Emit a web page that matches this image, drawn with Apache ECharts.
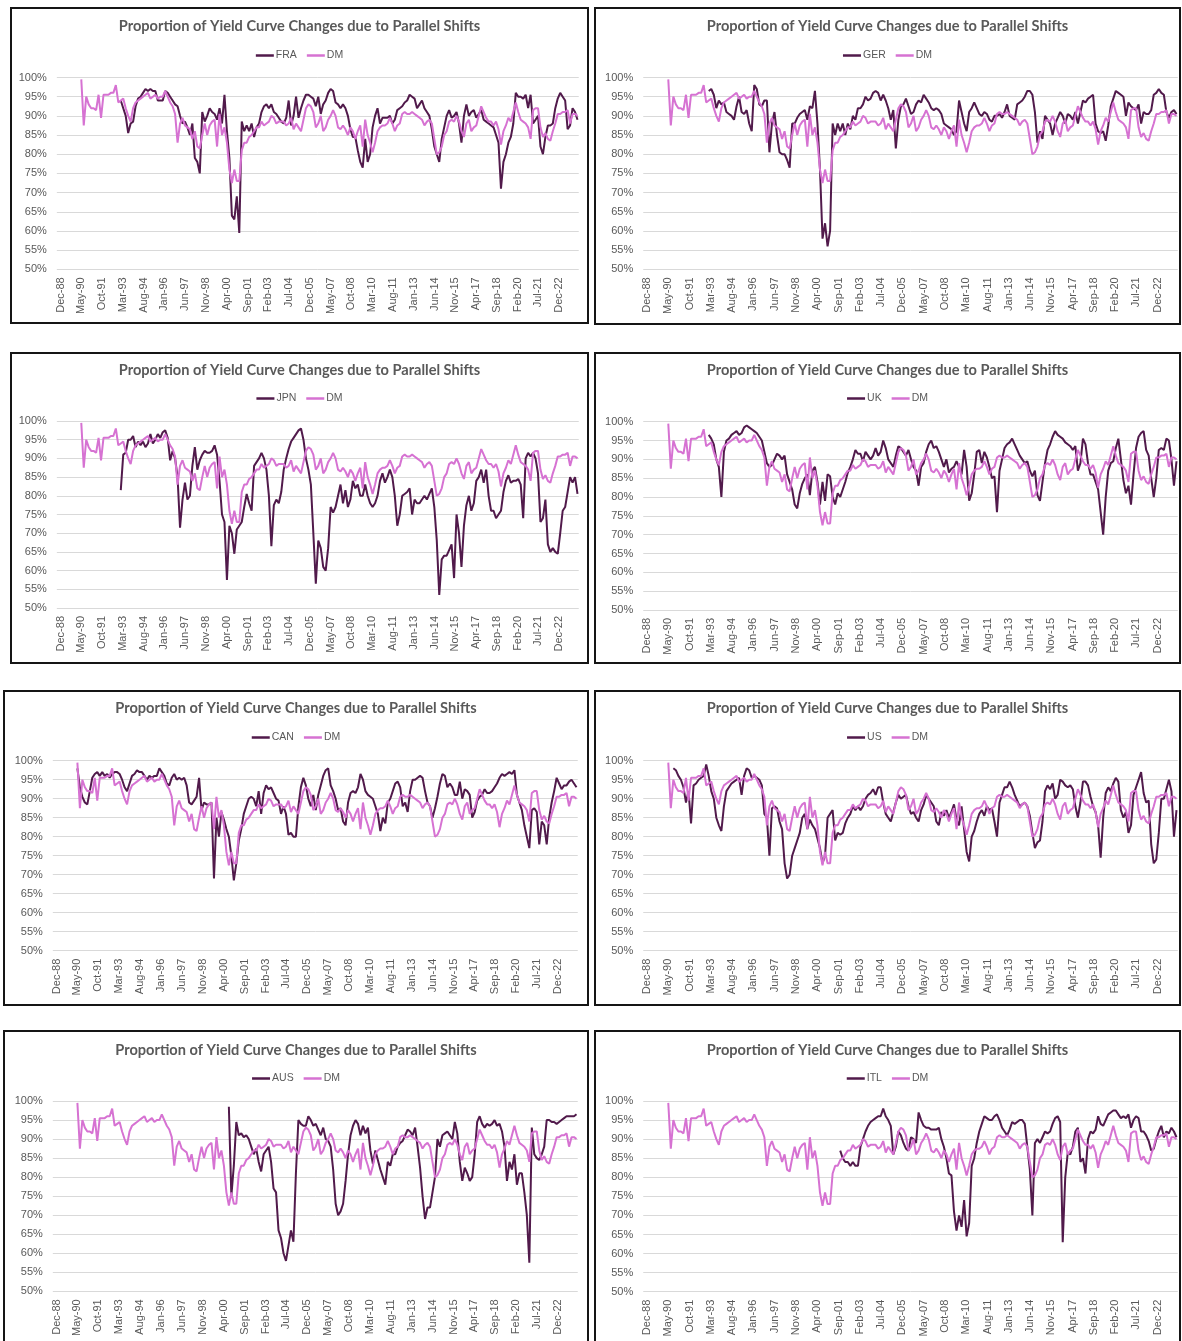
<!DOCTYPE html>
<html><head><meta charset="utf-8">
<script src="https://cdn.jsdelivr.net/npm/echarts@6/dist/echarts.min.js"></script>
<style>
html,body{margin:0;padding:0;background:#fff;width:1182px;height:1341px;overflow:hidden;}
.panel{position:absolute;box-sizing:border-box;border:2px solid #151515;background:#fff;}
</style></head><body>
<div id="p1" class="panel"></div><div id="p2" class="panel"></div>
<div id="p3" class="panel"></div><div id="p4" class="panel"></div>
<div id="p5" class="panel"></div><div id="p6" class="panel"></div>
<div id="p7" class="panel"></div><div id="p8" class="panel"></div>
<script>
// ---------- tick labels (x axis: months after Dec-88, one label every 17 months) ----------
const TICK_LABELS = ['Dec-88','May-90','Oct-91','Mar-93','Aug-94','Jan-96','Jun-97','Nov-98','Apr-00','Sep-01',
  'Feb-03','Jul-04','Dec-05','May-07','Oct-08','Mar-10','Aug-11','Jan-13','Jun-14','Nov-15','Apr-17','Sep-18',
  'Feb-20','Jul-21','Dec-22'];
const TICK_STEP = 17;
const FIRST_MONTH = 17;   // May-90 (months after Dec-88)
const LAST_MONTH = 423;   // Mar-24
const TITLE = 'Proportion of Yield Curve Changes due to Parallel Shifts';

// ---------- series values (%, evenly spaced readings May-90 .. Mar-24) ----------
const DM = [99.5,87.5,95,93,
 92,92,91.5,95.5,89.5,95.5, 95.5,95.5,96,96,98,93.5, 94,94.5,92,90,88.5,92, 93.5,94,94.5,95,95.5,96,
 94.5,95,95.5,94.5,95,95, 96.5,95,93.5,92.5,90.5,83, 88,89.5,87.5,87,86.5,84, 86,82,81.5,85,88,85,
 87.5,88.5,89,82,90.5,85, 87,83,76,72.5,76,73, 73,81,83,83,84.5,85, 86,87,87,88.5,87.5,88,
 88.5,90,89.5,88,88.5,88.5, 88.5,87.5,88,89.5,86.5,88, 87,86,89,92,93,92.5, 91,87,88,90,86,87,
 89,90,91.5,90,87,86.5, 87.5,86.5,85,87,86,84, 86,87.5,82,89,85,83, 80.5,83,86,87,87.5,87.5,
 88,89.5,88,86,87.5,88, 90.5,91,90.5,90.5,91,90.5, 90,89.5,89,87.5,88.5,89, 88,84,80,80.5,82,85,
 86,88.5,89,88.5,90,88.5, 86,84.5,88,89,86,87, 87.5,90,92.5,91,89.5,88.5, 88.5,87.5,88.5,86.5,82.5,86,
 87.5,89.5,88.5,91,93.5,91, 89,88.5,88,87,84,91.5, 92,92,87,84.5,85.5,84, 83.5,86,88,90.5,90.5,91,
 91,91.5,88,90.5,90.5,90];

const FRA = [94,92,90,85.5,88,88.5, 92.5,94.5,95,96,97,96.5, 97,96.5,96.5,94,94,94, 96.5,96,95,94,93,92.5,
 90,88,88.5,87,85,88, 79,78,75,91,88.5,90, 92,91,90.5,89,92,88, 95.5,86,79,64,63,69, 59.5,88.5,86,87.5,86,88,
 84.5,87,88,91,92.5,93, 92,93,91,90.5,89.5,88.5, 88,89.5,94,87.5,90,95, 89.5,92,94,95.5,95.5,95,
 94.5,92.5,95,90.5,93,94, 96,97,96.5,93.5,93,92, 93,92,90,86.5,84.5,84.5, 81,78,76.5,84,78,80,
 87,90,92,88,89.5,89.5, 89.5,90,88,89,91.5,92, 92.5,93.5,94,95.5,95,94.5, 92,93,94,92,91,90,
 86.5,82,80,78,84,87, 90,91.5,89.5,90,91,88, 83,90,93,90,91,91.5, 89.5,90.5,91.5,89,88.5,88,
 87.5,87,85,83,71,78, 80,83,84.5,88,96,95, 95,94.5,95.5,92,95.5,88, 89,90,82,80,84.5,87.5,
 87.5,88,92,94.5,96,95, 94,86.5,87.5,92,91,89];

const GER = [96.5,97,95.5,92,94,93, 93.5,91,90.5,90,89,92.5, 95,91,90.5,91.5,88,86, 98,97,93,92.5,94,94,
 80.5,88,91,85,80.5,80, 80,78.5,76.5,88,88,89.5, 90.5,91,91.5,89,92.5,92, 96.5,88,76,58,62,56, 60,88,85,88,86,88,
 85,88,86.5,90,89,92, 92,93,95,94,94.5,96, 96.5,96,94,95.5,94,92, 89,91.5,81.5,89,92.5,93,
 94.5,92.5,90.5,91,93,94, 93.5,95.5,94.5,93.5,92,91.5, 92,91.5,90.5,88,87.5,87, 86.5,85,86,94,91,88,
 86,91,92,93.5,92,90.5, 90,91,90.5,89,88.5,90, 90,90.5,89.5,91,93,90, 89.5,89,93,93.5,94,95,
 96.5,96.5,95.5,91,83,86, 84,90,89,88,85,88, 89.5,91,90,88,90.5,90, 89,91,88,91,94,93.5,
 94.5,95,95.5,88,86,85.5, 86,83.5,87.5,92.5,94.5,96.5, 96,95.5,95,90,93.5,92.5, 92,91.5,93,88,91,90.5,
 90.5,91.5,95.5,96,97,96, 95.5,91,89.5,91,91.5,90.5];

const JPN = [81.5,91,91.5,95,95,96, 93,94.5,93.5,94.5,93,94, 96.5,94,95,96.5,95.5,97, 97.5,95.5,89.5,92,90,85,
 71.5,79,83.5,79,80,88, 93,87,89.5,91,92,91.5, 91.5,92,93.5,91,84,75, 73,57.5,72,70,64.5,71, 72,73,77,80.5,78,76,
 88,89,90,91.5,90,87, 80,66.5,77.5,79,78,81, 87,90,92.5,94.5,95.5,96.5, 97.5,98,95,90,87,83,
 70,56.5,68,66,61,60, 66,77,75.5,77,80,83, 78,81.5,77,79,84,82, 83,80,80,83,80,78,
 77,78,80,84,86,83.5, 85,87,85,80,72,75, 80,80.5,81,82,75,79, 78,78,79,80,79,80.5,
 82,77,68,53.5,63,64, 64,65.5,67,58,75,70, 61,72,77.5,80,76,78, 84,85,87,83.5,87,80,
 76,76,74,75,76,81, 84,85.5,83.5,84,84,84.5, 83,74,90,91.5,90.5,91.5, 90,86,73,74,79,67,
 65,66,65,64.5,70,76, 77,81,85,83.5,85,80.5];

const UK = [96.5,95.5,94,90,88,80, 92,95,95.5,96.5,97,97.5, 96.5,97,98.5,99,98.5,98, 97.5,97,96,95,92,89,
 88,88.5,90,91.5,91,90, 91,86,84,82,78,77, 81,83.5,85,86,80.5,87, 88,84,78,84,79,86, 85.5,80,78,81,80,82,
 84,86.5,88,90,92.5,91.5, 91.5,89.5,92,91,90,91, 93,91,92,95,93,90, 89,88,91,93.5,93,92,
 91,92.5,90,88,87,83, 88,89,92,94,95,93, 93.5,92,90,88,90,86.5, 87.5,88,89.5,88,86,92.5,
 88,79,81,86,92,92.5, 89,92,90.5,88,85,85.5, 76,87,90,93,94,94.5, 95.5,94,92.5,91,90,89,
 89.5,87,85.5,87,80.5,79, 84,89,92.5,94,96,97.5, 96.5,96,95.5,94.5,94,93.5, 92.5,93.5,87,89,95.5,94,
 89,86,86,84,82,76, 70,80,87,89,89.5,93, 95.5,90,84.5,81,83,78, 86,93,96,97,97.5,92.5,
 91,85,80,85,92.5,93, 92.5,95.5,95,90,83,89.5];

const CAN = [98,93,90.5,89,
 88.5,92,95.5,96.5,97,96, 97,96,96.5,95.5,96.5,97, 97,96.5,95,93,92,94, 96,96.5,97.5,97,97,96,
 95,96,95.5,96,96,98, 97,96,94,93.5,95.5,96.5, 95,95.5,95,95.5,93.5,89, 88.5,89.5,90.5,95.5,87,89,
 88.5,88.5,89,69,85,80, 86.5,84.5,82,80,75,68.5, 73,79,82,86,88,90, 90.5,90,88,92,86,91.5,
 93.5,92.5,93,91.5,90,89.5, 86,88,86,80.5,81,80, 80,88,93,95.5,93.5,90, 88,91,87,91,93.5,96,
 97.5,98,93.5,92,90,87, 87.5,84,83,89,91.5,92, 91.5,93,96.5,95,92,91, 90.5,90,88,86,81.5,85,
 83.5,89,90,92,94,94.5, 93,88,89,86.5,92,95, 95,95.5,96,95.5,92,89, 88,85,87.5,90.5,94,96.5,
 96,93,94,93,91,91, 94.5,90,92.5,92,91,85, 86.5,89.5,90.5,91,92.5,91.5, 91.5,92,93,94,95.5,96.5,
 96,96.5,97,96.5,97.5,91, 89,87,83,80,77,87, 87.5,86.5,78,84,83,78, 85,89,92,95.5,94,92.5,
 93.5,93.5,94.5,95,94,93];

const US = [98,97.5,
 96,95,93,89,92,83.5, 93.5,94,95,95.5,96,99, 96,92,90,85,83,81.5, 88,92,93,94,94.5,95,
 95.5,91,96,98,97.5,95.5, 96,95.5,95,93.5,86,85, 75,87.5,88,87.5,84,82, 73,69,70,75,77,79,
 81,85,86,82,84.5,83, 82,79.5,77,73,75,85, 86,87,79,81,80.5,81, 83.5,85,86,88,87,88,
 87,88,90,91,91.5,92.5, 91,93,93,89,86,85, 84,86.5,89,91,90,90.5, 91,88,86,86.5,85,84,
 87,88.5,91,90,89,88, 84,83,86.5,85.5,87,85, 86.5,88.5,84.5,83,88,82, 76,73.5,80,81.5,84,86,
 87,85.5,88,87,87.5,84, 80,89,91,93,93,94.5, 93,91,89.5,88,88.5,89, 88,85.5,81,77,78.5,79,
 84,92,93.5,92.5,94,90, 91,95,94.5,93.5,93,93.5, 92.5,88,85,89,94.5,94.5, 93.5,90.5,88,86.5,83,74.5,
 85,91.5,93,92,94,95.5, 94.5,87,85,86.5,81,83, 91,93,95,97,91.5,89, 89.5,78,73,74,81,90,
 90,92.5,95,92,80,87];

const AUS = [98.5,75,83,
 94.5,91,91.5,90.5,91,90, 88,86,87.5,84,81.5,86, 87,88,84,77,76,66, 64,60,58,62,66,63,
 81,95,94,93.5,93.5,96, 95,93.5,94,92.5,91,93, 90,89.5,88,82,73,70, 71,73,79,86,91,93.5,
 95,94,91,93.5,91.5,93, 87,83.5,87,84.5,82,80, 78,84,83,86,86,88, 89,89.5,91,92.5,92,91,
 93,88,82.5,75,69,72, 72,76,80,90,88,91, 91.5,92,91,90,94.5,91.5, 84,79,82.5,81,79,80,
 86,94.5,96,94,93,94, 93.5,94,95,93.5,94,92, 88,79,84,82,86,78, 81,81,76,70,57.5,93,
 86,85,84.5,86,88,95, 95,94.5,94.5,94,94.5,95, 95.5,96,96,96,96,96.5];

const ITL = [87,85,
 84,84,83,84,83,83, 88,90,92,93.5,94.5,95, 95.5,96,96,98,96,95, 93.5,86,88,92,91,89,
 87.5,87,90.5,90,89,97, 95,93.5,93,93,92.5,92.5, 92.5,93,90,88,85,81, 80.5,71,66,70,67,74,
 64.5,68,83,85,89,92, 94,96,95.5,95,95,96, 96.5,95,93,92,91,92.5, 94.5,94,94.5,95,95,94,
 88,82,70,89,90,89, 90.5,92,91.5,92,94,95.5, 96,94.5,63,80,86.5,86, 88,92,93,84,85,81,
 90,92,91.5,92.5,96,94, 93.5,95,96.5,97,97.5,97.5, 96.5,95.5,96,95.5,96.5,93, 95,96,95.5,92,92,91,
 89.5,87,87.5,90,92,93.5, 90.5,92,91.5,93,92,90.5];

// where each country series begins on the common reading grid (index into DM's grid)
const START = {FRA:16, GER:16, JPN:16, UK:16, CAN:0, US:2, AUS:61, ITL:68};

// ---------- layout (pixels) ----------
const DARK = '#511a4b', PINK = '#d672d2', GREY = '#595959';
const PANELS = [
  {id:'p1', name:'FRA', vals:FRA, box:[10,7,579,317],   titleY:24,   legendY:52,   y100:77.5,  y50:269.3,  x0:60.5, xEnd:577.5},
  {id:'p2', name:'GER', vals:GER, box:[594,7,587,318],  titleY:24,   legendY:52,   y100:77.5,  y50:269.3,  x0:647,  xEnd:1176.5},
  {id:'p3', name:'JPN', vals:JPN, box:[10,352,579,312], titleY:368,  legendY:395,  y100:421,   y50:608,    x0:60.5, xEnd:577.5},
  {id:'p4', name:'UK',  vals:UK,  box:[594,352,587,312],titleY:368,  legendY:395,  y100:421.7, y50:610,    x0:647,  xEnd:1176.5},
  {id:'p5', name:'CAN', vals:CAN, box:[3,690,586,316],  titleY:706,  legendY:734,  y100:760.7, y50:950.7,  x0:56.5, xEnd:576.5},
  {id:'p6', name:'US',  vals:US,  box:[594,690,587,316],titleY:706,  legendY:734,  y100:760.7, y50:950.7,  x0:647,  xEnd:1176.5},
  {id:'p7', name:'AUS', vals:AUS, box:[3,1030,586,320], titleY:1048, legendY:1075, y100:1101,  y50:1291.3, x0:56.5, xEnd:576.5},
  {id:'p8', name:'ITL', vals:ITL, box:[594,1030,587,320],titleY:1048,legendY:1075, y100:1101,  y50:1291.7, x0:647,  xEnd:1176.5}
];
const X_MIN = -3, X_MAX = 424;
const TICK_POS = TICK_LABELS.map((_, i) => i * TICK_STEP);
const GRID_STEP = (LAST_MONTH - FIRST_MONTH) / (DM.length - 1);

function points(vals, start) {
  return vals.map((v, k) => [FIRST_MONTH + (start + k) * GRID_STEP, v]);
}

PANELS.forEach(p => {
  const [bx, by, bw, bh] = p.box;
  const el = document.getElementById(p.id);
  el.style.left = bx + 'px'; el.style.top = by + 'px';
  el.style.width = bw + 'px'; el.style.height = bh + 'px';
  const ox = bx + 2, oy = by + 2;
  const ppm = (p.xEnd - p.x0) / LAST_MONTH;
  const gl = p.x0 + X_MIN * ppm - ox;
  const gw = (X_MAX - X_MIN) * ppm;
  const chart = echarts.init(el, null, {renderer: 'canvas', width: bw - 4, height: bh - 4});
  chart.setOption({
    animation: false,
    backgroundColor: '#fff',
    title: {
      text: TITLE, left: 'center', top: p.titleY - oy - 10,
      textStyle: {fontFamily: 'Lato', fontWeight: 'bold', fontSize: 14.6, color: GREY}
    },
    legend: {
      data: [p.name, 'DM'], left: 'center', top: p.legendY - oy - 7,
      icon: 'rect', itemWidth: 18, itemHeight: 2.5, itemGap: 10,
      textStyle: {fontFamily: 'Liberation Sans', fontSize: 10.5, color: GREY, padding: [0, 0, 0, -3]}
    },
    grid: {left: gl, top: p.y100 - oy, width: gw, height: p.y50 - p.y100, containLabel: false},
    xAxis: {
      type: 'value', min: X_MIN, max: X_MAX,
      axisLine: {show: false}, axisTick: {show: false}, splitLine: {show: false},
      axisLabel: {
        customValues: TICK_POS,
        formatter: v => TICK_LABELS[Math.round(v / TICK_STEP)] || '',
        rotate: 90, fontSize: 11, color: GREY, margin: 8, fontFamily: 'Liberation Sans'
      }
    },
    yAxis: {
      type: 'value', min: 50, max: 100, interval: 5,
      axisLine: {show: false}, axisTick: {show: false},
      axisLabel: {formatter: '{value}%', fontSize: 11, color: GREY, margin: 10, fontFamily: 'Liberation Sans'},
      splitLine: {lineStyle: {color: '#d9d9d9', width: 1}}
    },
    series: [
      {name: p.name, type: 'line', data: points(p.vals, START[p.name]), showSymbol: false,
       lineStyle: {width: 2, color: DARK}, itemStyle: {color: DARK}},
      {name: 'DM', type: 'line', data: points(DM, 0), showSymbol: false,
       lineStyle: {width: 2, color: PINK}, itemStyle: {color: PINK}}
    ]
  });
});
</script>
</body></html>
